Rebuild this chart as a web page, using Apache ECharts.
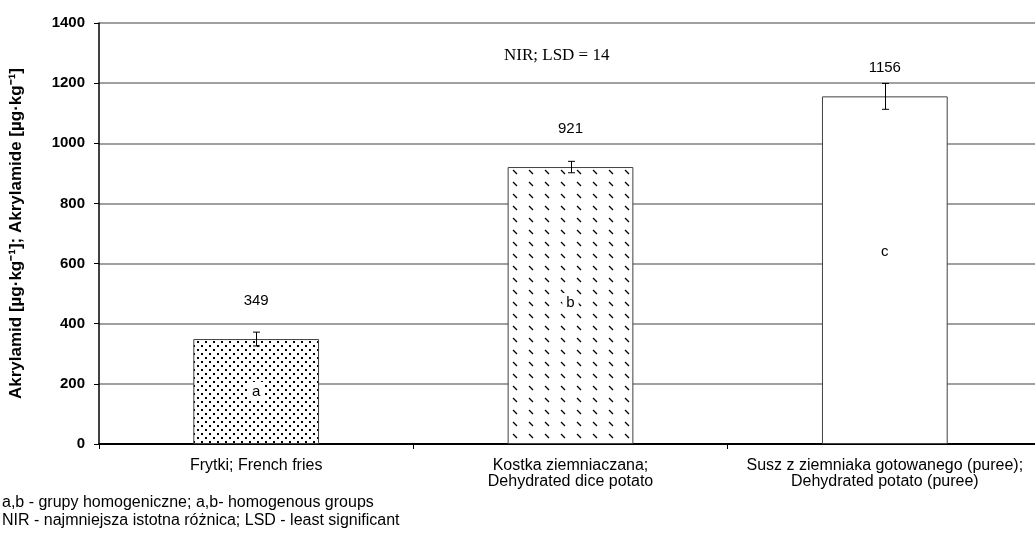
<!DOCTYPE html>
<html>
<head>
<meta charset="utf-8">
<script src="https://cdn.jsdelivr.net/npm/echarts@6/dist/echarts.min.js"></script>
<style>html,body{margin:0;padding:0;background:#fff;overflow:hidden}#c{width:1043px;height:536px}</style>
</head>
<body>
<div id="c"></div>
<script>
// ---- data ----
var categories = ['Frytki; French fries', 'Kostka ziemniaczana;\nDehydrated dice potato', 'Susz z ziemniaka gotowanego (puree);\nDehydrated potato (puree)'];
var values = [349, 921, 1156];
var errors = [23, 19, 43];
var groups = ['a', 'b', 'c'];
var yTicks = [0, 200, 400, 600, 800, 1000, 1200, 1400];
var lsdNote = 'NIR; LSD = 14';
var footNotes = ['a,b - grupy homogeniczne; a,b- homogenous groups', 'NIR - najmniejsza istotna różnica; LSD - least significant'];

// ---- styles ----
var valueLabelDist = [31, 31, 21];
var groupLabelOffset = [0, -3, -18];
var SANS = '"Liberation Sans", Arial, sans-serif';

function dotPattern() {
  var c = document.createElement('canvas'); c.width = 8; c.height = 8;
  var g = c.getContext('2d'); g.fillStyle = '#fff'; g.fillRect(0, 0, 8, 8);
  g.fillStyle = '#000'; g.fillRect(1, 1, 2, 2); g.fillRect(5, 5, 2, 2);
  return { image: c, repeat: 'repeat' };
}
function dashPattern() {
  var c = document.createElement('canvas'); c.width = 16; c.height = 12;
  var g = c.getContext('2d'); g.fillStyle = '#fff'; g.fillRect(0, 0, 16, 12);
  g.strokeStyle = '#000'; g.lineWidth = 1.3;
  g.beginPath(); g.moveTo(1, 2); g.lineTo(5, 6); g.stroke();
  return { image: c, repeat: 'repeat' };
}
var fills = [dotPattern(), dashPattern(), '#ffffff'];

var chart = echarts.init(document.getElementById('c'), null, { renderer: 'canvas' });
var option = {
  animation: false,
  backgroundColor: '#fff',
  grid: { left: 98, width: 944, top: 23, bottom: 92, containLabel: false },
  xAxis: {
    type: 'category',
    data: categories,
    axisLine: { lineStyle: { color: '#000', width: 2 } },
    axisTick: { show: true, length: 5, lineStyle: { color: '#000' } },
    axisLabel: { color: '#000', fontFamily: SANS, fontSize: 16, lineHeight: 16, margin: 14, interval: 0 },
    splitLine: { show: false }
  },
  yAxis: {
    type: 'value', min: 0, max: 1400, interval: 200,
    name: 'Akrylamid [µg·kg⁻¹]; Akrylamide [µg·kg⁻¹]',
    nameLocation: 'middle', nameGap: 74,
    nameTextStyle: { color: '#000', fontWeight: 'bold', fontFamily: SANS, fontSize: 17 },
    axisLine: { show: true, lineStyle: { color: '#000', width: 1.5 } },
    axisTick: { show: true, length: 5, lineStyle: { color: '#000' } },
    axisLabel: { color: '#000', fontWeight: 'bold', fontFamily: SANS, fontSize: 15, margin: 14,
      formatter: function (v) { return yTicks.indexOf(v) >= 0 ? String(v) : ''; } },
    splitLine: { show: true, lineStyle: { color: '#808080', width: 1.5 } }
  },
  series: [
    {
      type: 'bar', barWidth: '40%',
      data: values.map(function (v, i) {
        return { value: v, itemStyle: { color: fills[i] }, label: { distance: valueLabelDist[i] } };
      }),
      itemStyle: { borderColor: '#404040', borderWidth: 1 },
      label: { show: true, position: 'top', color: '#000', fontFamily: SANS, fontSize: 15 }
    },
    {
      type: 'bar', barWidth: '40%', barGap: '-100%', z: 3,
      data: values.map(function (v, i) {
        return { value: v, label: { formatter: groups[i], offset: [0, groupLabelOffset[i]] } };
      }),
      itemStyle: { color: 'rgba(0,0,0,0)' },
      label: { show: true, position: 'inside', color: '#000', fontFamily: SANS, fontSize: 15, backgroundColor: '#fff', padding: [2, 4] }
    },
    {
      type: 'custom', z: 4,
      data: values.map(function (v, i) { return [i, v - errors[i], v + errors[i]]; }),
      renderItem: function (params, api) {
        var lo = api.coord([api.value(0), api.value(1)]);
        var hi = api.coord([api.value(0), api.value(2)]);
        var x = Math.round(lo[0]) + 0.5, w = 3.5;
        var st = { stroke: '#000', lineWidth: 1 };
        return { type: 'group', children: [
          { type: 'line', shape: { x1: x, y1: lo[1], x2: x, y2: hi[1] }, style: st },
          { type: 'line', shape: { x1: x - w, y1: lo[1], x2: x + w, y2: lo[1] }, style: st },
          { type: 'line', shape: { x1: x - w, y1: hi[1], x2: x + w, y2: hi[1] }, style: st }
        ] };
      }
    }
  ],
  graphic: [
    { type: 'text', x: 504, y: 56, style: { text: lsdNote, fill: '#000', font: '17px "Liberation Serif", "Times New Roman", serif', verticalAlign: 'middle' } },
    { type: 'text', x: 2, y: 503, style: { text: footNotes[0], fill: '#000', font: '16px ' + SANS, verticalAlign: 'middle' } },
    { type: 'text', x: 2, y: 521, style: { text: footNotes[1], fill: '#000', font: '16px ' + SANS, verticalAlign: 'middle' } }
  ]
};
chart.setOption(option);
</script>
</body>
</html>
